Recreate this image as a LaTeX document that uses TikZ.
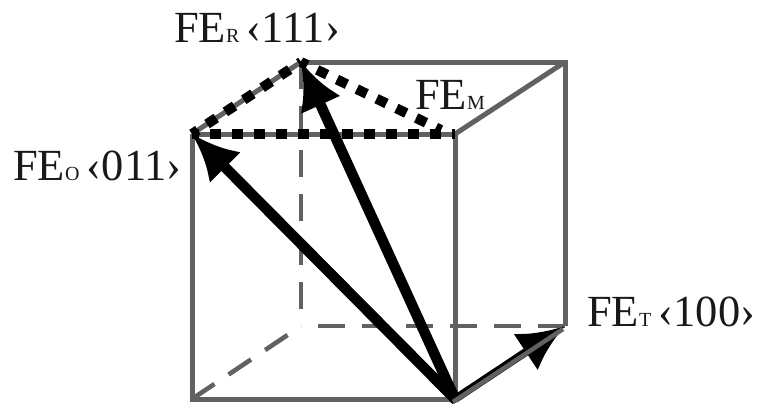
\documentclass[tikz,border=0pt]{standalone}
\usepackage{fontspec}
\setmainfont{Liberation Serif}
\usetikzlibrary{arrows.meta}
\newcommand{\subs}[1]{{\fontsize{20}{20}\selectfont #1}}
\tikzset{
  edge/.style={draw=black!62,line width=5pt,line cap=butt},
  hidden/.style={edge,line width=4.6pt,dash pattern=on 27pt off 17pt},
  vec/.style={draw=black,line width=10.5pt,-{Latex[length=47pt,width=44pt]},shorten <=-2pt},
  dots/.style={draw=black,line width=10pt,dash pattern=on 11pt off 11pt,dash phase=4pt},
  tag/.style={font=\fontsize{44.5}{44.5}\selectfont,inner sep=0pt,anchor=base west,text=black!90}
}
\begin{document}
\begin{tikzpicture}[x=1pt,y=-1pt]
\useasboundingbox (0,0) rectangle (759,407);
\coordinate (A) at (192,134);
\coordinate (B) at (455,134);
\coordinate (C) at (455,399);
\coordinate (D) at (192,399);
\coordinate (E) at (301,62);
\coordinate (F) at (565,62);
\coordinate (G) at (565,326);
\coordinate (H) at (301,326);
\coordinate (M) at (441,130);
% hidden edges
\draw[hidden] (E) -- (H);
\draw[hidden] (G) -- (H);
\draw[hidden] (D) -- (H);
% visible edges
\draw[edge,line join=miter] (A) -- (D) -- (C) -- (B);
\draw[edge] (E) -- (F) -- (G);
\draw[edge] (B) -- (F);
\draw[edge] (A) -- (B);
\draw[edge] (A) -- (E);
% vectors
\draw[vec] (C) -- (A);
\draw[vec] (C) -- (E);
\draw[draw=black,line width=8pt,-{Latex[length=47pt,width=44pt]}] (C) -- (G);
\draw[edge,line width=4.5pt] ([shift={(-2,3)}]C) -- ([shift={(-2,3)}]G);
% dotted lines
\draw[dots] (A) -- (E);
\draw[dots] (A) -- (B);
\draw[dots] (E) -- (M);
% labels
\node[tag] (r) at (174,42) {FE\subs{R}\,‹111›};
\node[tag] (m) at (415,109) {FE\subs{M}};
\node[tag] (o) at (13,180) {FE\subs{O}\,‹011›};
\node[tag] (t) at (587,326) {FE\subs{T}\,‹100›};
\end{tikzpicture}
\end{document}
